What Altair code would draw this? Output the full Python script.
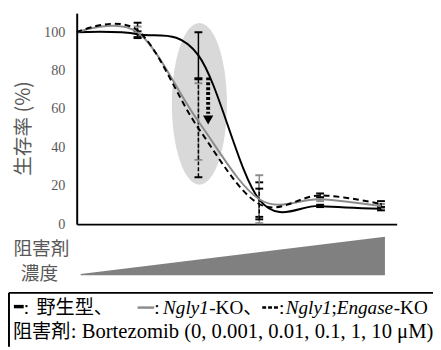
import altair as alt
import pandas as pd

# ---- data ----
conc_labels = ["0", "0.001", "0.01", "0.1", "1", "10"]   # Bortezomib µM
conc_pos = [0, 1, 2, 3, 4, 5]
wt = [100, 99, 88, 12.8, 9.5, 8]
wt_err = [0, 1.5, 12, 9, 0.6, 0.8]
ko = [100, 100, 53.5, 13, 13, 9.5]
ko_err = [0, 3, 20, 12.5, 1, 1]
dko = [100, 101, 50, 10.5, 15, 10.5]
dko_err = [0, 4, 25.5, 8, 1, 1.5]

# annotation anchors (in data units)
ellipse_x = [2.016]
ellipse_y = [62.7]
arrow_x = [2.16, 2.16]
arrow_y = [76.5, 57.5]
arrow_head_y = [54.3]
wedge_x = [0.065, 5.065]
wedge_bottom = [-26.6, -26.6]
wedge_top = [-26.0, -6.6]

GRAY_TXT = "#595959"
SERIF = "Liberation Serif, Noto Sans CJK JP"
CJK = "Noto Sans CJK JP"

Y_AXIS = alt.Axis(values=[0, 20, 40, 60, 80, 100], grid=False, ticks=False, tickSize=0,
                  domainColor="black", domainWidth=2,
                  labelFont="Liberation Serif", labelFontSize=14.5, labelColor=GRAY_TXT,
                  labelPadding=12,
                  title="生存率 (%)", titleFont=CJK, titleFontSize=20, titleFontWeight="normal",
                  titleColor=GRAY_TXT, titleX=-54, titleY=117, titleAngle=-90,
                  titleAlign="center", titleBaseline="middle")
X_AXIS = alt.Axis(labels=False, ticks=False, tickSize=0, grid=False, title=None,
                  domainColor="black", domainWidth=2)


def X(f="x"):
    return alt.X(f"{f}:Q", scale=alt.Scale(domain=[0, 5.258], nice=False, zero=False), axis=X_AXIS)


def Y(f="y"):
    return alt.Y(f"{f}:Q", scale=alt.Scale(domain=[0, 110], nice=False), axis=Y_AXIS)


layers = []

# grey ellipse highlight
ell = pd.DataFrame({"x": ellipse_x, "y": ellipse_y})
layers.append(alt.Chart(ell).mark_point(
    shape="M -0.34,0 A 0.34,1 0 1,0 0.34,0 A 0.34,1 0 1,0 -0.34,0 Z",
    size=27225, filled=True, color="#d9d9d9", opacity=1, strokeWidth=0
).encode(x=X(), y=Y()))

# concentration wedge
wd = pd.DataFrame({"x": wedge_x, "y": wedge_bottom, "y2": wedge_top})
layers.append(alt.Chart(wd).mark_area(color="#808080", opacity=1).encode(
    x=X(), y=Y(), y2="y2:Q"))

series = [
    (wt, wt_err, "black", None),
    (ko, ko_err, "#8c8c8c", None),
    (dko, dko_err, "black", [6, 4]),
]

for vals, errs, col, dash in series:
    bars = pd.DataFrame({
        "x": conc_pos,
        "y": [v - e for v, e in zip(vals, errs)],
        "hi": [v + e for v, e in zip(vals, errs)],
    })
    bars = bars[[e > 0 for e in errs]]
    rule_kw = dict(color=col, strokeWidth=1.5)
    if dash:
        rule_kw["strokeDash"] = [4, 2]
    layers.append(alt.Chart(bars).mark_rule(**rule_kw).encode(x=X(), y=Y(), y2="hi:Q"))
    caps = pd.DataFrame({
        "x": list(bars["x"]) * 2,
        "y": list(bars["y"]) + list(bars["hi"]),
    })
    layers.append(alt.Chart(caps).mark_tick(orient="horizontal", size=8, thickness=2,
                                            color=col, opacity=1).encode(x=X(), y=Y()))

for vals, errs, col, dash in series:
    ln = pd.DataFrame({"x": conc_pos, "y": vals, "conc": conc_labels})
    kw = dict(interpolate="cardinal", color=col, strokeWidth=2)
    if dash:
        kw["strokeDash"] = dash
    layers.append(alt.Chart(ln).mark_line(**kw).encode(x=X(), y=Y(), order="x:Q"))

# dotted arrow
ar = pd.DataFrame({"x": arrow_x, "y": arrow_y})
layers.append(alt.Chart(ar).mark_line(color="black", strokeWidth=4, strokeDash=[3, 2]).encode(
    x=X(), y=Y()))
ah = pd.DataFrame({"x": [arrow_x[0]], "y": arrow_head_y})
layers.append(alt.Chart(ah).mark_point(shape="triangle-down", filled=True, size=110,
                                       color="black", opacity=1).encode(x=X(), y=Y()))

one = pd.DataFrame({"a": [0]})


def txt(s, x, y, size=19.5, font=SERIF, color="black", style="normal", align="left",
        baseline="alphabetic"):
    return alt.Chart(one).mark_text(text=s, font=font, fontSize=size, color=color,
                                    fontStyle=style, align=align, baseline=baseline).encode(
        x=alt.value(x), y=alt.value(y))


def seg(x1, x2, y1, y2, color, width, dash=None):
    kw = dict(color=color, strokeWidth=width)
    if dash:
        kw["strokeDash"] = dash
    return alt.Chart(one).mark_rule(**kw).encode(
        x=alt.value(x1), x2=alt.value(x2), y=alt.value(y1), y2=alt.value(y2))


OX, OY = 78, 10  # plot origin on the page

# "阻害剤 濃度" label
layers.append(txt("阻害剤", 42 - OX, 250 - OY, size=19, font=CJK, color=GRAY_TXT,
                  align="center", baseline="middle"))
layers.append(txt("濃度", 40 - OX, 276 - OY, size=19, font=CJK, color=GRAY_TXT,
                  align="center", baseline="middle"))

# legend frame: top edge and left edge (kept inside the drawing surface)
layers.append(seg(9 - OX, 441 - OX, 295 - OY, 295 - OY, "black", 2))
layers.append(seg(9 - OX, 9 - OX, 295 - OY, 350 - OY, "black", 2))

L1 = 317 - OY
L2 = 341 - OY
layers.append(seg(14 - OX, 24 - OX, 309 - OY, 309 - OY, "black", 3.5))
layers.append(txt(":", 24 - OX, L1))
layers.append(txt("野生型、", 37 - OX, L1))
layers.append(seg(140 - OX, 157 - OX, 310 - OY, 310 - OY, "#8c8c8c", 2.5))
layers.append(txt(":", 157 - OX, L1))
layers.append(txt("Ngly1", 166 - OX, L1, style="italic"))
layers.append(txt("-KO、", 213 - OX, L1))
layers.append(seg(267 - OX, 283 - OX, 310 - OY, 310 - OY, "black", 2.5, dash=[4, 2]))
layers.append(txt(":", 284 - OX, L1))
layers.append(txt("Ngly1", 291 - OX, L1, style="italic"))
layers.append(txt(";", 337.5 - OX, L1))
layers.append(txt("Engase", 343 - OX, L1, style="italic"))
layers.append(txt("-KO", 401 - OX, L1))
layers.append(txt("阻害剤", 13 - OX, L2, size=19.5))
layers.append(txt(": Bortezomib (0, 0.001, 0.01, 0.1, 1, 10 μM)", 72 - OX, L2, size=21))

chart = alt.layer(*layers).properties(
    width=326, height=215,
    autosize=alt.AutoSizeParams(type="none"),
    padding={"left": 70, "top": 2, "right": 37, "bottom": 125},
    background="white",
).configure_view(stroke=None)

chart.save("out.html", embed_options={"renderer": "svg", "actions": False})
